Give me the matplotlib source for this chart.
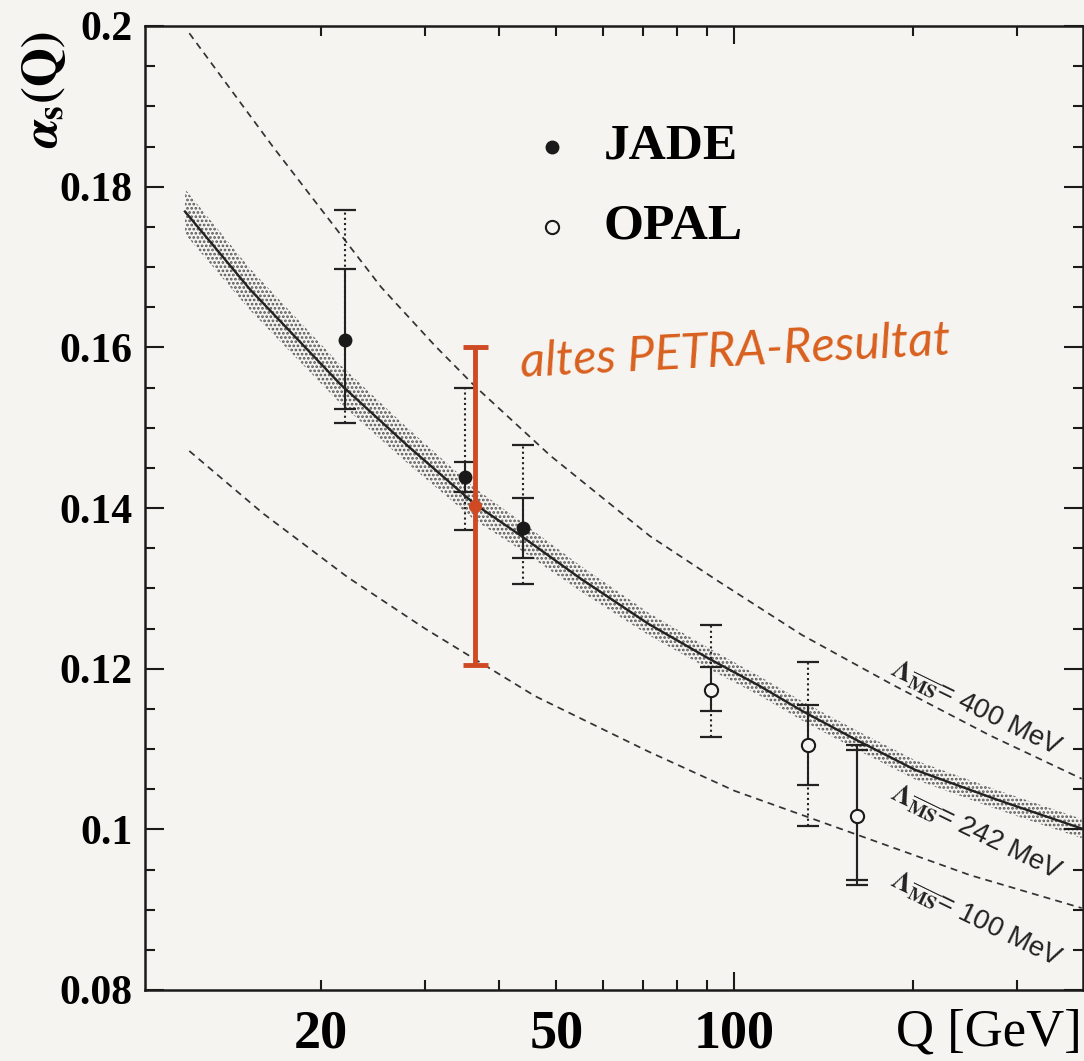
import numpy as np
import matplotlib
matplotlib.use('Agg')
import matplotlib.pyplot as plt
from matplotlib.ticker import FixedLocator, FuncFormatter, MultipleLocator

plt.rcParams['font.family'] = ['Liberation Serif', 'DejaVu Serif']
plt.rcParams['font.weight'] = 'bold'
plt.rcParams['mathtext.fontset'] = 'stix'
plt.rcParams['hatch.color'] = '#4a4a4a'
plt.rcParams['hatch.linewidth'] = 1.3

# ---------------- data ----------------
jade_q = [22, 35, 44]
jade_a = [0.1609, 0.1438, 0.1375]
jade_in_lo = [0.1523, 0.1420, 0.1338]
jade_in_hi = [0.1698, 0.1457, 0.1413]
jade_out_lo = [0.1506, 0.1372, 0.1306]
jade_out_hi = [0.1771, 0.1549, 0.1478]

opal_q = [91.2, 133, 161]
opal_a = [0.1173, 0.1105, 0.1016]
opal_in_lo = [0.1147, 0.1055, 0.0937]
opal_in_hi = [0.1202, 0.1155, 0.1099]
opal_out_lo = [0.1115, 0.1004, 0.0931]
opal_out_hi = [0.1254, 0.1208, 0.1105]
opal_out_dotted = [True, True, False]

petra_q = [36.4]
petra_a = [0.1403]
petra_lo = [0.1204]
petra_hi = [0.1600]

# Lambda = 242 MeV fit curve and its band
fit_q = [11.8, 15.2, 21.6, 28.1, 36.4, 43.1, 55, 71.5, 90.3, 110, 129.7, 160, 202, 280, 386]
fit_a = [0.1769, 0.1672, 0.1554, 0.1477, 0.1405, 0.1368, 0.1312, 0.1256, 0.1213,
         0.1179, 0.1148, 0.1112, 0.1074, 0.1036, 0.1001]
fit_halfwidth = [0.0028, 0.0026, 0.0024, 0.0022, 0.0020, 0.0018, 0.0016, 0.0014,
                 0.0013, 0.0012, 0.0012, 0.0012, 0.0012, 0.0012, 0.0012]

# Lambda = 400 MeV and 100 MeV curves
l400_q = [12.0, 16.6, 25.3, 31.2, 36.4, 48.9, 72, 93.4, 130, 185, 270, 386]
l400_a = [0.1991, 0.1850, 0.1675, 0.1602, 0.1552, 0.1465, 0.1365, 0.1310,
          0.1242, 0.1180, 0.1117, 0.1063]

l100_q = [12.0, 16.0, 22.2, 30, 46.0, 71.5, 100, 156, 250, 386]
l100_a = [0.1471, 0.1393, 0.1314, 0.1250, 0.1166, 0.1097, 0.1048, 0.0997, 0.0943, 0.0902]

y_ticks = [0.08, 0.10, 0.12, 0.14, 0.16, 0.18, 0.20]
x_minor_ticks = [20, 30, 40, 50, 60, 70, 80, 90, 200, 300]
x_labeled = [20, 50, 100]
lambda_labels = ['400', '242', '100']

# ---------------- figure ----------------
bg = '#f6f4f0'
fig = plt.figure(figsize=(10.84, 10.61), dpi=100, facecolor=bg)
ax = fig.add_axes([145/1084, 1-990/1061, (1083-145)/1084, (990-26)/1061])
ax.set_facecolor(bg)
ax.set_xscale('log')
ax.set_xlim(10.1, 388)
ax.set_ylim(0.08, 0.2)

# band + central curve
lo = np.array(fit_a) - np.array(fit_halfwidth)
hi = np.array(fit_a) + np.array(fit_halfwidth)
ax.fill_between(fit_q, lo, hi, facecolor='none', edgecolor='#555555',
                hatch='....', linewidth=0, zorder=1)
ax.plot(fit_q, fit_a, color='#222222', lw=1.7, zorder=3)

# dashed Lambda curves
ax.plot(l400_q, l400_a, color='#333333', lw=1.25, dashes=(4, 3), zorder=2)
ax.plot(l100_q, l100_a, color='#333333', lw=1.25, dashes=(4, 3), zorder=2)

def errbar(q, a, lo_, hi_, dotted):
    eb = ax.errorbar([q], [a], yerr=[[a - lo_], [hi_ - a]], fmt='none',
                     ecolor='#222222', elinewidth=1.5, capsize=8, capthick=1.6,
                     zorder=4)
    if dotted:
        eb[2][0].set_linestyle((0, (1, 1.5)))

for i in range(len(jade_q)):
    errbar(jade_q[i], jade_a[i], jade_out_lo[i], jade_out_hi[i], True)
    errbar(jade_q[i], jade_a[i], jade_in_lo[i], jade_in_hi[i], False)
for i in range(len(opal_q)):
    errbar(opal_q[i], opal_a[i], opal_out_lo[i], opal_out_hi[i], opal_out_dotted[i])
    errbar(opal_q[i], opal_a[i], opal_in_lo[i], opal_in_hi[i], False)

ax.plot(jade_q, jade_a, 'o', color='#1a1a1a', ms=9, zorder=6)
ax.plot(opal_q, opal_a, 'o', mfc=bg, mec='#1a1a1a', mew=1.5, ms=9.5, zorder=6)

# old PETRA result (red)
red = '#cf4a22'
ax.errorbar(petra_q, petra_a,
            yerr=[[petra_a[0] - petra_lo[0]], [petra_hi[0] - petra_a[0]]],
            fmt='o', color=red, ms=8.5, elinewidth=3.5, capsize=9, capthick=3.5,
            zorder=7)
ax.text(43.2, 0.1594, 'altes PETRA-Resultat', color='#d9601f', fontsize=35,
        family='Lato', style='italic', weight='normal', rotation=3,
        ha='left', va='center', zorder=8)

# legend
ax.plot([0.434], [0.8745], 'o', color='#1a1a1a', ms=9, transform=ax.transAxes)
ax.plot([0.434], [0.7915], 'o', mfc=bg, mec='#1a1a1a', mew=1.5, ms=9.5,
        transform=ax.transAxes)
ax.text(0.489, 0.8745, 'JADE', transform=ax.transAxes, fontsize=37,
        weight='bold', va='center', ha='left')
ax.text(0.489, 0.7915, 'OPAL', transform=ax.transAxes, fontsize=37,
        weight='bold', va='center', ha='left')

# Lambda labels
lab_pos = [(182, 0.1193), (182, 0.1038), (182, 0.0930)]
for (qx, ay), lab in zip(lab_pos, lambda_labels):
    ax.text(qx, ay, r'$\Lambda_{\overline{\mathsf{MS}}}$= ' + lab + ' MeV',
            family='Liberation Sans', weight='normal', fontsize=20,
            rotation=-26, rotation_mode='anchor', ha='left', va='baseline',
            color='#222222', zorder=5)

# ticks
ax.xaxis.set_major_locator(FixedLocator([100]))
ax.xaxis.set_minor_locator(FixedLocator(x_minor_ticks))
ax.xaxis.set_major_formatter(FuncFormatter(lambda v, p: f'{v:g}' if v in x_labeled else ''))
ax.xaxis.set_minor_formatter(FuncFormatter(lambda v, p: f'{v:g}' if v in x_labeled else ''))
ax.yaxis.set_major_locator(FixedLocator(y_ticks))
ax.yaxis.set_major_formatter(FuncFormatter(lambda v, p: f'{v:g}'))
ax.yaxis.set_minor_locator(MultipleLocator(0.005))

ax.tick_params(which='both', direction='in', top=True, right=True,
               width=1.5, color='#1a1a1a')
ax.tick_params(axis='y', which='major', length=14, labelsize=30, pad=9)
ax.tick_params(axis='y', which='minor', length=7)
ax.tick_params(axis='x', which='major', length=13, labelsize=39, pad=14)
ax.tick_params(axis='x', which='minor', length=7, labelsize=39, pad=14)
for s in ax.spines.values():
    s.set_linewidth(1.8)
    s.set_color('#1a1a1a')

fig.text(0.998, 1 - 1008/1061, 'Q [GeV]', ha='right', va='top', fontsize=38,
         weight='normal')
fig.text(43/1084, 1 - 90/1061, r'$\alpha_{\rm s}\rm(Q)$', rotation=90,
         ha='center', va='center', fontsize=36, weight='normal')

fig.savefig('out.png', dpi=100, facecolor=bg)
